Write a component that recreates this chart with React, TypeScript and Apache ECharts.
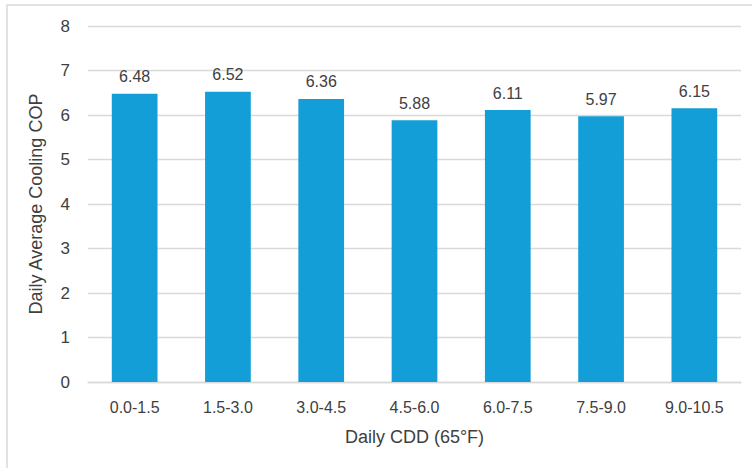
import React, { useEffect, useRef } from "react";
import * as echarts from "echarts";

const categories = ["0.0-1.5", "1.5-3.0", "3.0-4.5", "4.5-6.0", "6.0-7.5", "7.5-9.0", "9.0-10.5"];
const copValues = [6.48, 6.52, 6.36, 5.88, 6.11, 5.97, 6.15];
const yTicks = { min: 0, max: 8, interval: 1 };

const FONT = "'Liberation Sans', Arial, sans-serif";
const TEXT = "#404040";

export default function App() {
  const ref = useRef<HTMLDivElement>(null);

  useEffect(() => {
    if (!ref.current) return;
    const chart = echarts.init(ref.current, null, { renderer: "svg" });
    chart.setOption({
      animation: false,
      backgroundColor: "#ffffff",
      grid: { left: 88, right: 11, top: 26, bottom: 86, containLabel: false },
      graphic: [
        {
          type: "rect",
          shape: { x: 7, y: 5, width: 800, height: 520 },
          style: { fill: "none", stroke: "#d9d9d9", lineWidth: 1.5 },
          silent: true,
          z: -1,
        },
      ],
      xAxis: {
        type: "category",
        data: categories,
        name: "Daily CDD (65°F)",
        nameLocation: "middle",
        nameGap: 46,
        nameTextStyle: { fontFamily: FONT, fontSize: 18, color: TEXT },
        axisLine: { lineStyle: { color: "#d9d9d9", width: 1.3 } },
        axisTick: { show: false },
        axisLabel: { fontFamily: FONT, fontSize: 16, color: TEXT, margin: 17 },
      },
      yAxis: {
        type: "value",
        min: yTicks.min,
        max: yTicks.max,
        interval: yTicks.interval,
        name: "Daily Average Cooling COP",
        nameLocation: "middle",
        nameGap: 43,
        nameTextStyle: { fontFamily: FONT, fontSize: 18, color: TEXT },
        axisLine: { show: false },
        axisTick: { show: false },
        axisLabel: { fontFamily: FONT, fontSize: 17, color: TEXT, margin: 18 },
        splitLine: { lineStyle: { color: "#d9d9d9", width: 1.3 } },
      },
      series: [
        {
          type: "bar",
          data: copValues,
          barWidth: "49%",
          itemStyle: { color: "#139ED7" },
          label: {
            show: true,
            position: "top",
            distance: 9,
            fontFamily: FONT,
            fontSize: 16,
            color: TEXT,
            formatter: (p: any) => Number(p.value).toFixed(2),
          },
        },
      ],
    });
    return () => chart.dispose();
  }, []);

  return (
    <div
      ref={ref}
      style={{ position: "absolute", left: 0, top: 0, width: 752, height: 468 }}
    />
  );
}
